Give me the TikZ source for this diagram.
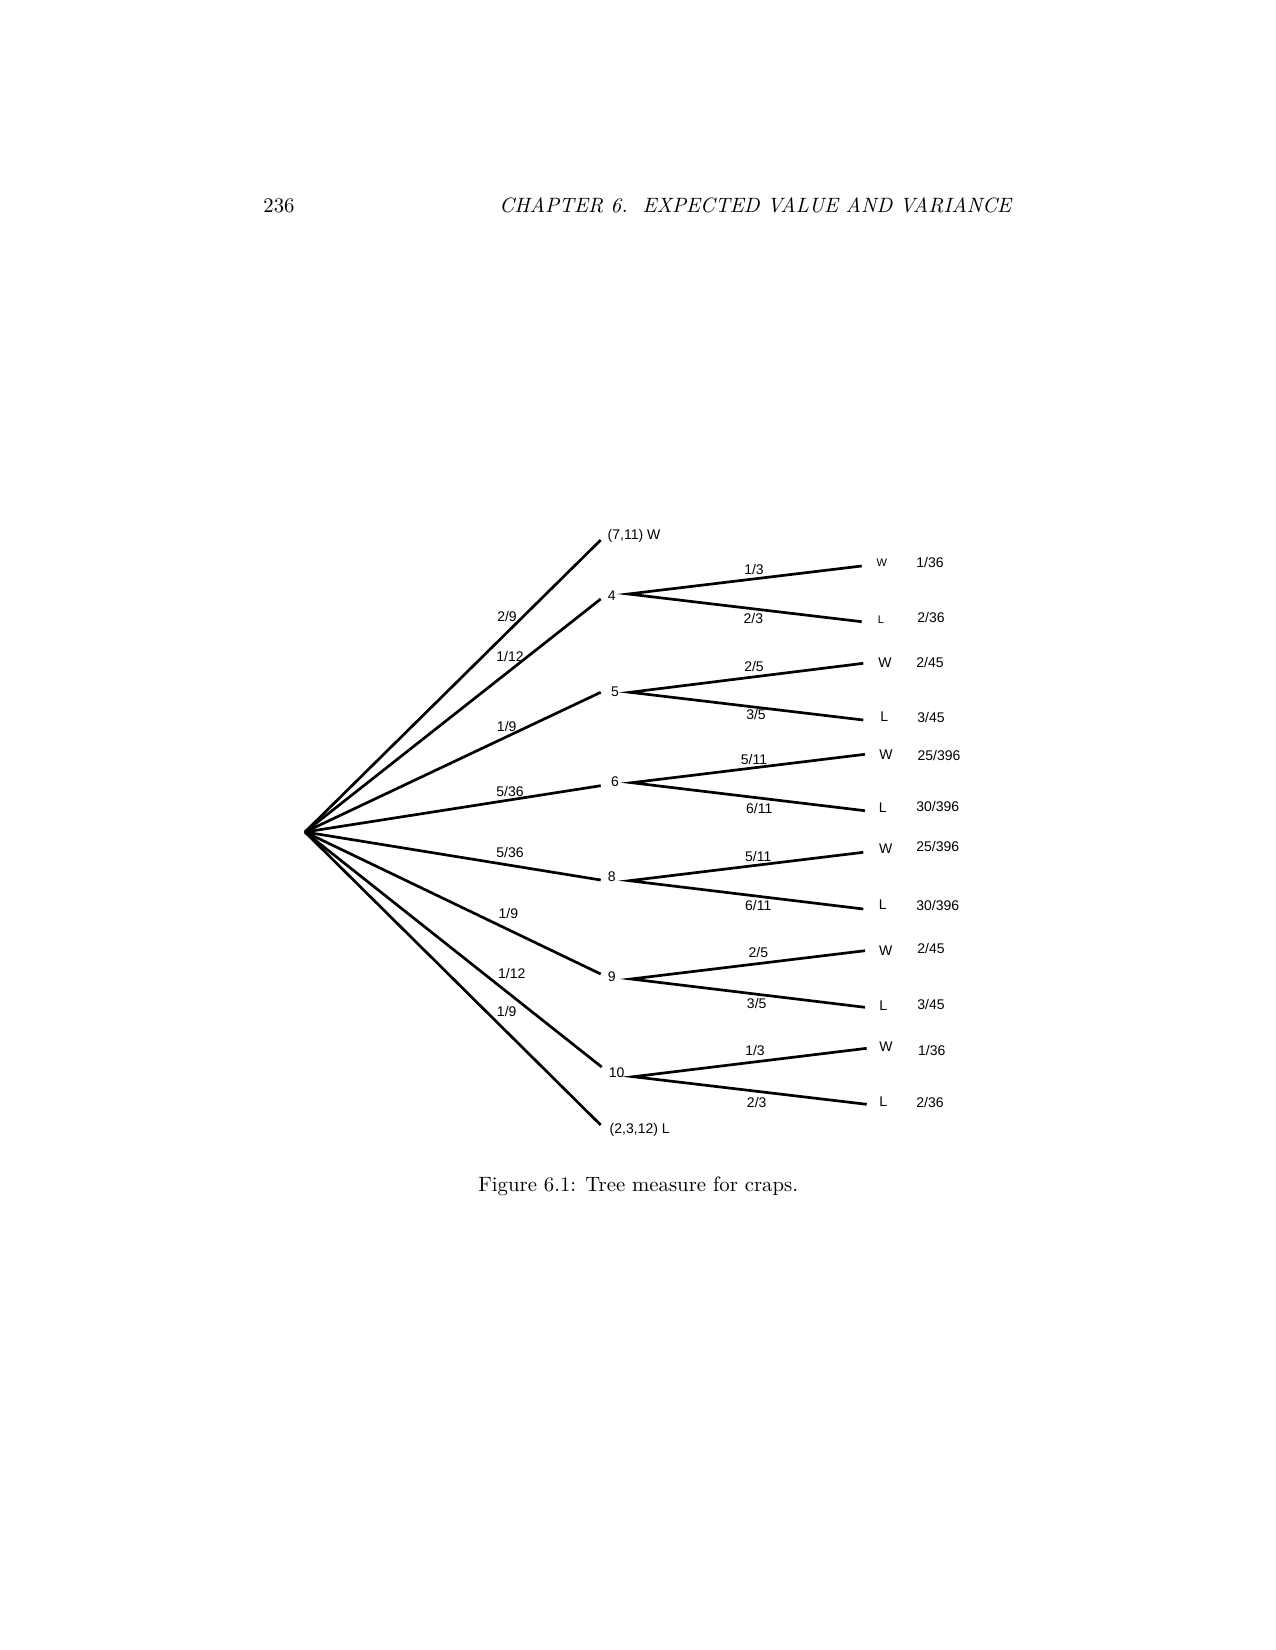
\documentclass[tikz,border=0pt]{standalone}
\usepackage{fontspec}
\newfontfamily\hv{Liberation Sans}
\tikzset{
  x=0.4818pt, y=-0.4818pt,
  edge/.style={line width=1.3pt},
  lab/.style={font=\hv\fontsize{6.75}{7.5}\selectfont, inner sep=0pt},
  sml/.style={font=\hv\fontsize{5.3}{6}\selectfont, inner sep=0pt},
  txt/.style={font=\fontsize{10}{12}\selectfont, inner sep=0pt}
}
\begin{document}
\begin{tikzpicture}
\useasboundingbox[fill=white] (0,0) rectangle (1275,1650);

% header and caption
\node[txt, anchor=base west] (pg) at (263,212.7) {236};
\node[txt, anchor=base east] (hd) at (1011.7,212.7) {\itshape CHAPTER 6.\ \ EXPECTED VALUE AND VARIANCE};
\node[txt, anchor=base west] (cap) at (478,1191) {Figure 6.1: Tree measure for craps.};

% root and first level
\coordinate (root) at (305,832);
\coordinate (e711) at (600.7,540);
\coordinate (e4) at (600.7,599);
\coordinate (e5) at (600.7,692.3);
\coordinate (e6) at (600.7,785.7);
\coordinate (e8) at (600.7,880);
\coordinate (e9) at (600.7,974);
\coordinate (e10) at (601.7,1067);
\coordinate (e2312) at (600.7,1125);

\foreach \e in {e711,e4,e5,e6,e8,e9,e10,e2312}
  \draw[edge] (root) -- (\e);

\node[lab] (n711) at (634,536) {(7,11) W};
\node[lab] (n4) at (611.7,596) {4};
\node[lab] (n5) at (615,691.7) {5};
\node[lab] (n6) at (615,781.7) {6};
\node[lab] (n8) at (611.7,876.7) {8};
\node[lab] (n9) at (611.7,977) {9};
\node[lab] (n10) at (616.7,1073) {10};
\node[lab] (n2312) at (639.7,1130) {(2,3,12) L};

\node[lab] (p711) at (507,616.7) {2/9};
\node[lab] (p4) at (510,656) {1/12};
\node[lab] (p5) at (506.7,726.7) {1/9};
\node[lab] (p6) at (510,791.7) {5/36};
\node[lab] (p8) at (510,852.3) {5/36};
\node[lab] (p9) at (508.3,913.3) {1/9};
\node[lab] (p10) at (511.7,973.3) {1/12};
\node[lab] (p2312) at (506.7,1011) {1/9};

% second level split points
\coordinate (s4) at (628.3,594);
\coordinate (s5) at (630,692.3);
\coordinate (s6) at (631.7,782.7);
\coordinate (s8) at (629.3,880.7);
\coordinate (s9) at (631,979);
\coordinate (s10) at (633.3,1076.7);

\coordinate (w4) at (861.7,566);   \coordinate (l4) at (861.7,621.7);
\coordinate (w5) at (863.3,663.3); \coordinate (l5) at (863.3,720);
\coordinate (w6) at (865,754.3);   \coordinate (l6) at (865,810.7);
\coordinate (w8) at (863.3,852.3); \coordinate (l8) at (863.3,909);
\coordinate (w9) at (865,950.7);   \coordinate (l9) at (865,1007.3);
\coordinate (w10) at (866.7,1048.3); \coordinate (l10) at (866.7,1104.3);

\foreach \k in {4,5,6,8,9,10}{
  \draw[edge] (w\k) -- (s\k) -- (l\k);
}

% branch probabilities (second level)
\node[lab] (q4w) at (754,569.3) {1/3};
\node[lab] (q4l) at (753.3,618.3) {2/3};
\node[lab] (q5w) at (754,666.7) {2/5};
\node[lab] (q5l) at (756,714) {3/5};
\node[lab] (q6w) at (754,759.3) {5/11};
\node[lab] (q6l) at (759.3,808.3) {6/11};
\node[lab] (q8w) at (758.3,856) {5/11};
\node[lab] (q8l) at (758.3,905) {6/11};
\node[lab] (q9w) at (758.3,952.7) {2/5};
\node[lab] (q9l) at (756.7,1003.3) {3/5};
\node[lab] (q10w) at (755,1050) {1/3};
\node[lab] (q10l) at (756.7,1102.7) {2/3};

% outcomes
\node[sml] (o4w) at (881.7,562.7) {W};
\node[sml] (o4l) at (881,619.3) {L};
\node[lab] (o5w) at (885,662.3) {W};
\node[lab] (o5l) at (884.3,716.7) {L};
\node[lab] (o6w) at (886,755) {W};
\node[lab] (o6l) at (882.7,807.3) {L};
\node[lab] (o8w) at (885.7,848.3) {W};
\node[lab] (o8l) at (882.7,905) {L};
\node[lab] (o9w) at (885.7,951) {W};
\node[lab] (o9l) at (883.3,1005.7) {L};
\node[lab] (o10w) at (886,1046.7) {W};
\node[lab] (o10l) at (883.3,1101.7) {L};

% final probabilities
\node[lab] (f4w) at (930,562.7) {1/36};
\node[lab] (f4l) at (931,617.3) {2/36};
\node[lab] (f5w) at (930,662.3) {2/45};
\node[lab] (f5l) at (931,717.3) {3/45};
\node[lab] (f6w) at (939,755) {25/396};
\node[lab] (f6l) at (937.7,806) {30/396};
\node[lab] (f8w) at (937.7,846) {25/396};
\node[lab] (f8l) at (937.7,905.7) {30/396};
\node[lab] (f9w) at (931,948.3) {2/45};
\node[lab] (f9l) at (931,1004) {3/45};
\node[lab] (f10w) at (931.7,1050) {1/36};
\node[lab] (f10l) at (930,1102.7) {2/36};
\end{tikzpicture}
\end{document}
